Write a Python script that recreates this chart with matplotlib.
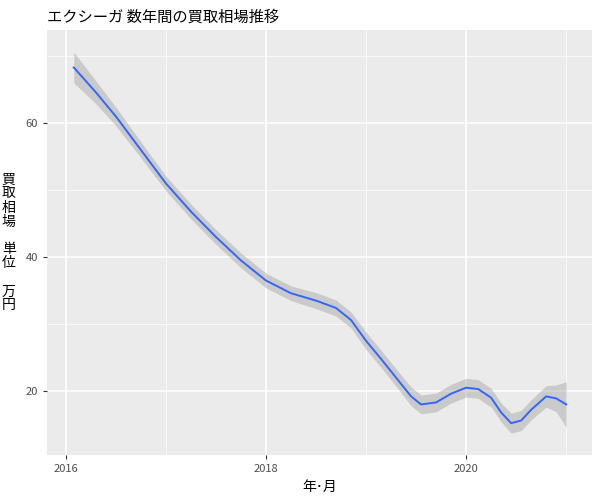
import matplotlib
matplotlib.use("Agg")
import matplotlib.pyplot as plt

plt.rcParams['font.family'] = ['Noto Sans CJK JP', 'DejaVu Sans']

years = [2016.08, 2016.3, 2016.5, 2016.75, 2017.0, 2017.25, 2017.5, 2017.75, 2018.0, 2018.25,
         2018.5, 2018.7, 2018.85, 2019.0, 2019.15, 2019.3, 2019.45, 2019.55, 2019.7, 2019.85,
         2020.0, 2020.12, 2020.25, 2020.35, 2020.45, 2020.55, 2020.65, 2020.8, 2020.9, 2021.0]
price = [68.3, 64.6, 61.0, 56.0, 51.0, 46.8, 43.0, 39.5, 36.5, 34.6,
         33.5, 32.4, 30.6, 27.5, 24.8, 22.0, 19.2, 18.0, 18.3, 19.6,
         20.5, 20.3, 19.0, 16.8, 15.2, 15.6, 17.2, 19.2, 18.9, 18.0]
halfw = [2.3, 1.7, 1.4, 1.2, 1.1, 1.1, 1.1, 1.1, 1.1, 1.1,
         1.2, 1.2, 1.2, 1.3, 1.3, 1.3, 1.4, 1.4, 1.4, 1.4,
         1.4, 1.4, 1.4, 1.4, 1.5, 1.5, 1.5, 1.6, 2.0, 3.4]

fig, ax = plt.subplots(figsize=(6, 5), dpi=100)
fig.subplots_adjust(left=0.078, right=0.987, top=0.94, bottom=0.09)
ax.set_facecolor('#EBEBEB')
lo = [p - h for p, h in zip(price, halfw)]
hi = [p + h for p, h in zip(price, halfw)]
ax.fill_between(years, lo, hi, color='#999999', alpha=0.4, linewidth=0, zorder=2)
ax.plot(years, price, color='#3366FF', linewidth=1.4, zorder=3)

ax.set_xlim(2015.81, 2021.26)
ax.set_ylim(10.45, 73.9)
ax.set_xticks([2016, 2018, 2020])
ax.set_yticks([20, 40, 60])
ax.set_xticks([2017, 2019, 2021], minor=True)
ax.set_yticks([30, 50, 70], minor=True)
ax.grid(True, which='major', color='white', linewidth=1.1, zorder=0)
ax.grid(True, which='minor', color='white', linewidth=0.5, zorder=0)
ax.set_axisbelow(True)
for s in ax.spines.values():
    s.set_visible(False)
ax.tick_params(which='major', color='#333333', length=3, labelsize=8, labelcolor='#4D4D4D')
ax.tick_params(which='minor', length=0)
ax.set_xlabel('年･月', fontsize=10)
ax.set_ylabel('買\n取\n相\n場\n\n単\n位\n\n万\n円', fontsize=10, rotation=0,
              va='center', linespacing=1.0, labelpad=12)
ax.set_title('エクシーガ 数年間の買取相場推移', loc='left', fontsize=11)
fig.savefig('out.png')
